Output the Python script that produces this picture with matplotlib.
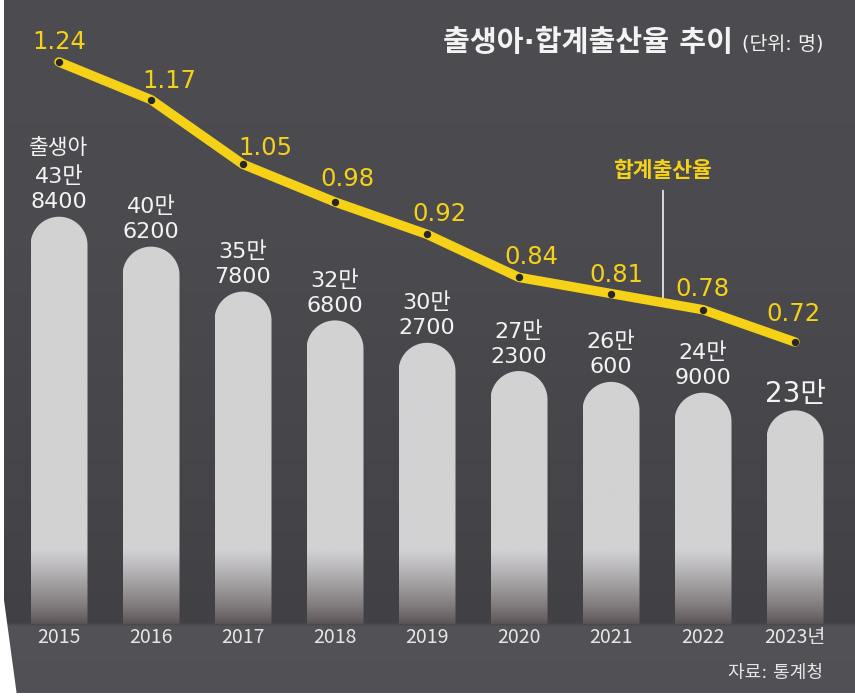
import numpy as np
import matplotlib
matplotlib.use("Agg")
import matplotlib.pyplot as plt
from matplotlib.patches import Polygon, Rectangle
from matplotlib.colors import to_rgb

# ---------------- data ----------------
years = ["2015", "2016", "2017", "2018", "2019", "2020", "2021", "2022", "2023년"]
births = [438400, 406200, 357800, 326800, 302700, 272300, 260600, 249000, 230000]
birth_labels = ["43만\n8400", "40만\n6200", "35만\n7800", "32만\n6800", "30만\n2700",
                "27만\n2300", "26만\n600", "24만\n9000", "23만"]
birth_series_name = "출생아"
rates = [1.24, 1.17, 1.05, 0.98, 0.92, 0.84, 0.81, 0.78, 0.72]
rate_series_name = "합계출산율"
title = "출생아·합계출산율 추이"
unit = "(단위: 명)"
source = "자료: 통계청"

# ---------------- style ----------------
W, H = 855, 696
YELLOW = "#f5d117"
WHITE = "#f3f3f3"
BAR_LIGHT = "#d2d2d4"
BAR_DARK = "#5a5254"
KR = ["Noto Sans CJK KR", "DejaVu Sans"]
NUM = ["DejaVu Sans", "Noto Sans CJK KR"]

fig = plt.figure(figsize=(W / 100, H / 100), dpi=100)
fig.patch.set_facecolor("white")

# background layer (pixel coordinates)
bg = fig.add_axes([0, 0, 1, 1])
bg.set_axis_off()
stops_y = [0, 250, 500, 622, 626, 696]
stops_c = ["#4d4d51", "#4b4b4f", "#454549", "#404045", "#525257", "#505055"]
rows = np.arange(H)
img = np.zeros((H, 1, 3))
for ch in range(3):
    img[:, 0, ch] = np.interp(rows, stops_y, [to_rgb(c)[ch] for c in stops_c])
bg.imshow(img, extent=(0, W, H, 0), aspect="auto", zorder=0, interpolation="bilinear")
bg.add_patch(Polygon([(0, 0), (4, 0), (4, 600), (17, 696), (0, 696)], closed=True,
                     facecolor="white", edgecolor="none", zorder=1))
bg.add_patch(Rectangle((0, 693), W, 3, facecolor="white", edgecolor="none", zorder=1))
bg.set_xlim(0, W)
bg.set_ylim(H, 0)

# main axes: bottom at bar baseline
BASE_PX = 624
PX_PER_PERSON = 0.000929
SLOT = 92
X0_PX = 59
ax = fig.add_axes([0, (H - BASE_PX) / H, 1, BASE_PX / H])
ax.patch.set_alpha(0)
for s in ax.spines.values():
    s.set_visible(False)
xlim = (-X0_PX / SLOT, (W - X0_PX) / SLOT)
ylim = (0, BASE_PX / PX_PER_PERSON)

x = np.arange(len(years))
bar_w = 57 / SLOT
rx = bar_w / 2
ry = 28.5 / PX_PER_PERSON
fade_top = 80000  # persons height where the bottom fade ends

t = np.linspace(np.pi, 0, 60)
nrow = 300
for xi, v in zip(x, births):
    x0, x1 = xi - rx, xi + rx
    verts = [(x0, 0), (x0, v - ry)]
    verts += list(zip(xi + rx * np.cos(t), v - ry + ry * np.sin(t)))
    verts += [(x1, 0)]
    patch = Polygon(verts, closed=True, facecolor="none", edgecolor="none")
    ax.add_patch(patch)
    hy = np.linspace(0, v, nrow)
    frac = np.clip(hy / fade_top, 0, 1)
    frac = frac ** 0.8
    g = np.zeros((nrow, 1, 3))
    for ch in range(3):
        g[:, 0, ch] = to_rgb(BAR_DARK)[ch] + (to_rgb(BAR_LIGHT)[ch] - to_rgb(BAR_DARK)[ch]) * frac
    im = ax.imshow(g, extent=(x0, x1, 0, v), origin="lower", aspect="auto", zorder=2,
                   interpolation="bilinear")
    im.set_clip_path(patch)

# bar labels
LINE_GAP = 25
label_sizes = [16] * (len(births) - 1) + [20]
for i, (lab, v) in enumerate(zip(birth_labels, births)):
    lines = lab.split("\n")[::-1]
    for k, line in enumerate(lines):
        ax.annotate(line, (x[i], v), xytext=(0, 8.5 + k * LINE_GAP), textcoords="offset pixels",
                    ha="center", va="baseline", fontsize=label_sizes[i], color=WHITE,
                    family=NUM, zorder=6)
    if i == 0:
        ax.annotate(birth_series_name, (x[i], v), xytext=(0, 8.5 + len(lines) * LINE_GAP + 4),
                    textcoords="offset pixels", ha="center", va="baseline", fontsize=15.5,
                    color=WHITE, family=KR, zorder=6)

ax.set_xticks(x, years)
ax.tick_params(axis="x", length=0, pad=2.5, labelsize=14, labelcolor="#e6e6e6")
for tl in ax.get_xticklabels():
    tl.set_fontfamily(["Noto Sans CJK KR"])
ax.set_yticks([])
ax.set_xlim(*xlim)
ax.set_ylim(*ylim)

# rate axis
R_PX = 538.5
R_TOP_PX = 62
ax2 = ax.twinx()
ax2.set_ylim(rates[0] - (BASE_PX - R_TOP_PX) / R_PX, rates[0] + R_TOP_PX / R_PX)
ax2.set_yticks([])
for s in ax2.spines.values():
    s.set_visible(False)
ax2.plot(x, rates, color=YELLOW, lw=6.8, solid_joinstyle="round", solid_capstyle="round", zorder=3)
ax2.plot(x, rates, "o", ms=4.3, color="#262626", zorder=4)

rate_offsets = [(0, 13), (18, 12), (22, 9), (12, 16), (12, 13), (12, 13), (5, 12), (-1, 14), (-2, 21)]
for i, r in enumerate(rates):
    ax2.annotate(f"{r:.2f}", (x[i], r), xytext=rate_offsets[i], textcoords="offset pixels",
                 ha="center", va="baseline", fontsize=17.5, color=YELLOW, family=NUM, zorder=6)

lead_x = (663 - X0_PX) / SLOT
lead_y = np.interp(lead_x, x, rates)
ax2.annotate(rate_series_name, (lead_x, lead_y), xytext=(0, 126), textcoords="offset pixels",
             ha="center", va="baseline", fontsize=15.5, color=YELLOW, weight="bold", family=KR,
             zorder=2,
             arrowprops=dict(arrowstyle="-", color="white", lw=1.1, shrinkA=5, shrinkB=0,
                             relpos=(0.5, 0)))
ax2.set_xlim(*xlim)

# titles
bg.text(733, 51, title, ha="right", va="baseline", fontsize=21, weight="bold", color=WHITE, family=NUM)
bg.text(823, 49, unit, ha="right", va="baseline", fontsize=14, color=WHITE, family=NUM)
bg.text(823, 678, source, ha="right", va="baseline", fontsize=13, color="#e6e6e6", family=NUM)

fig.savefig("out.png", dpi=100)
